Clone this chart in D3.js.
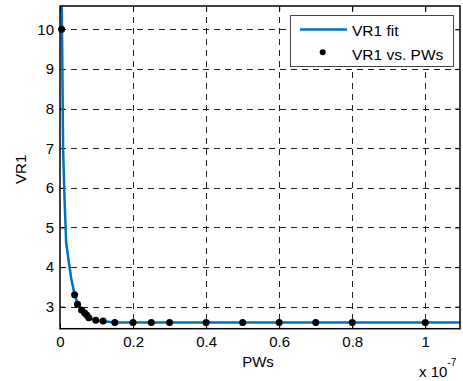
<!DOCTYPE html>
<html><head><meta charset="utf-8">
<script src="https://cdn.jsdelivr.net/npm/d3@7"></script>
<style>body{margin:0;background:#fff}svg{display:block}text{font-family:"Liberation Sans",Arial,sans-serif}</style>
</head><body><svg id="c" width="463" height="381"></svg>
<script>
// data (PWs in units of 1e-7)
const pwX = [0.0045, 0.04, 0.048, 0.059, 0.067, 0.073, 0.079, 0.098, 0.118, 0.15, 0.2, 0.25, 0.3, 0.4, 0.5, 0.6, 0.7, 0.8, 1.0];
const vr1 = [10.0, 3.3, 3.06, 2.92, 2.85, 2.79, 2.72, 2.66, 2.64, 2.6, 2.6, 2.6, 2.6, 2.6, 2.6, 2.6, 2.6, 2.6, 2.6];
const fitX = [0.003, 0.0055, 0.0085, 0.0118, 0.0156, 0.017, 0.03, 0.04, 0.05, 0.06, 0.08, 0.1, 0.15, 0.2, 1.095];
const fitY = [12.0, 10.0, 7.0, 5.89, 4.93, 4.6, 3.75, 3.3, 3.05, 2.9, 2.72, 2.65, 2.6, 2.6, 2.6];
const xTicks = [0, 0.2, 0.4, 0.6, 0.8, 1];
const yTicks = [3, 4, 5, 6, 7, 8, 9, 10];
const legendLabels = ["VR1 fit", "VR1 vs. PWs"];

const svg = d3.select("#c");
const L = 60, R = 460, T = 6, B = 328.7;
const x = d3.scaleLinear().domain([0, 1.095]).range([L, R]);
const y = d3.scaleLinear().domain([2.445, 10.588]).range([B, T]);
const FS = 15;

// grid
const grid = svg.append("g").attr("stroke", "#222").attr("stroke-width", 1).attr("stroke-dasharray", "6,5");
grid.selectAll(".gx").data(xTicks.filter(d => d > 0)).join("line")
  .attr("x1", d => Math.round(x(d)) + 0.5).attr("x2", d => Math.round(x(d)) + 0.5).attr("y1", T).attr("y2", B);
grid.selectAll(".gy").data(yTicks).join("line")
  .attr("y1", d => Math.round(y(d)) + 0.5).attr("y2", d => Math.round(y(d)) + 0.5).attr("x1", L).attr("x2", R);

// axes (ticks inward)
const ax = svg.append("g").attr("transform", `translate(0,${B})`)
  .call(d3.axisBottom(x).tickValues(xTicks).tickSize(-5).tickPadding(8).tickFormat(d3.format("~g")));
const axTop = svg.append("g").attr("transform", `translate(0,${T})`)
  .call(d3.axisTop(x).tickValues(xTicks).tickSize(-5).tickFormat(""));
const ay = svg.append("g").attr("transform", `translate(${L},0)`)
  .call(d3.axisLeft(y).tickValues(yTicks).tickSize(-5).tickPadding(6));
const ayR = svg.append("g").attr("transform", `translate(${R},0)`)
  .call(d3.axisRight(y).tickValues(yTicks).tickSize(-5).tickFormat(""));
[ax, axTop, ay, ayR].forEach(g => {
  g.select(".domain").remove();
  g.selectAll("line").attr("stroke", "#000");
  g.selectAll("text").attr("font-size", FS).attr("fill", "#000").style("font-family", '"Liberation Sans",Arial,sans-serif');
});

// clip
svg.append("clipPath").attr("id", "clip").append("rect").attr("x", L).attr("y", T).attr("width", R - L).attr("height", B - T);

// fit line
const fitData = fitX.map((d, i) => [d, fitY[i]]);
svg.append("path").datum(fitData).attr("clip-path", "url(#clip)")
  .attr("fill", "none").attr("stroke", "#0072BD").attr("stroke-width", 2.5)
  .attr("d", d3.line().x(d => x(d[0])).y(d => y(d[1])));

// points
svg.append("g").selectAll("circle").data(pwX.map((d, i) => [d, vr1[i]])).join("circle")
  .attr("cx", d => x(d[0])).attr("cy", d => y(d[1])).attr("r", 3.5).attr("fill", "#000");

// box
svg.append("rect").attr("x", L).attr("y", T).attr("width", R - L).attr("height", B - T)
  .attr("fill", "none").attr("stroke", "#000").attr("stroke-width", 1.5);

// labels
svg.append("text").attr("x", (L + R) / 2 - 2).attr("y", 367).attr("text-anchor", "middle").attr("font-size", FS).text("PWs");
svg.append("text").attr("transform", `translate(26,${(T + B) / 2 + 2}) rotate(-90)`).attr("text-anchor", "middle").attr("font-size", FS).text("VR1");
const ex = svg.append("text").attr("x", 419).attr("y", 377).attr("font-size", FS);
ex.append("tspan").text("x 10");
ex.append("tspan").attr("dy", -11).attr("font-size", 10).text("-7");

// legend
const lg = svg.append("g");
lg.append("rect").attr("x", 290.5).attr("y", 15.5).attr("width", 163).attr("height", 51)
  .attr("fill", "#fff").attr("stroke", "#444").attr("stroke-width", 1);
lg.append("line").attr("x1", 300).attr("x2", 347).attr("y1", 29.5).attr("y2", 29.5).attr("stroke", "#0072BD").attr("stroke-width", 2.5);
lg.append("circle").attr("cx", 322.7).attr("cy", 52.3).attr("r", 3).attr("fill", "#000");
lg.selectAll("text").data(legendLabels).join("text")
  .attr("x", 352).attr("y", (d, i) => 35.5 + i * 24.5).attr("font-size", 15.5).text(d => d);
</script></body></html>
